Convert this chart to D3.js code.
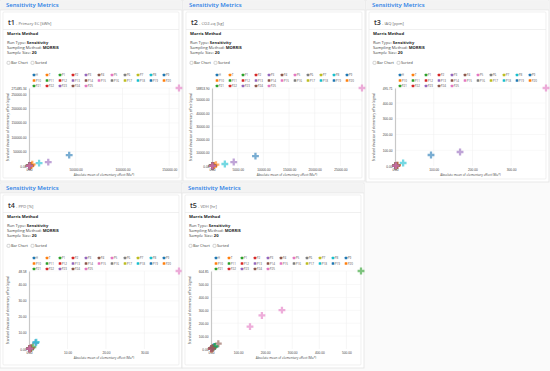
<!DOCTYPE html>
<html>
<head>
<meta charset="utf-8">
<script src="https://cdn.jsdelivr.net/npm/d3@7"></script>
<style>
  html, body { margin: 0; padding: 0; background: #fff; }
  svg { display: block; font-family: "Open Sans", "Noto Sans", sans-serif; }
</style>
</head>
<body>
<svg id="chart" width="550" height="371"></svg>
<script>
// parameters (one point per parameter in each panel)
const params = ['H', 'T', 'P1', 'P2', 'P3', 'P4', 'P5', 'P6', 'P7', 'P8', 'P9',
  'P10', 'P11', 'P12', 'P13', 'P14', 'P15', 'P16', 'P17', 'P18', 'P19', 'P20',
  'P21', 'P22', 'P23', 'P24', 'P25'];

const metricIds = ['t1', 't2', 't3', 't4', 't5'];
const metricNames = ['Primary EC [kWh]', 'CO2-eq [kg]', 'IAQ [ppm]', 'PPD [%]', 'VDH [hr]'];

// mu* (x) and sigma (y)
const muT1 = [43000, 3500, 400, 700, 20600, 900, 1200, 300, 150, 10800, 500, 2500, 200, 350, 450, 1500, 160500, 250, 100, 700, 800, 1800, 300, 200, 150, 1000, 600];
const sigmaT1 = [37800, 6000, 300, 500, 13700, 700, 900, 200, 100, 10000, 400, 2000, 150, 300, 300, 1100, 271485.34, 200, 80, 500, 600, 1400, 200, 150, 100, 800, 400];

const muT2 = [8460, 770, 60, 120, 4230, 150, 200, 50, 30, 2500, 90, 400, 40, 70, 80, 250, 29200, 45, 20, 130, 140, 300, 50, 40, 30, 180, 100];
const sigmaT2 = [7500, 1000, 50, 100, 3000, 120, 160, 40, 20, 1500, 70, 320, 30, 55, 60, 200, 58853.90, 35, 15, 100, 110, 240, 40, 30, 20, 140, 80];

const muT3 = [93, 6, 2, 3, 168, 4, 5, 1.5, 1, 21, 2.5, 5, 1.2, 2, 2.2, 6, 390, 1.4, 0.8, 3, 3.5, 4.5, 1.5, 1.2, 1, 4, 2.5];
const sigmaT3 = [70, 5, 1.5, 2.5, 89, 3, 4, 1.2, 0.8, 19, 2, 4, 1, 1.5, 1.8, 5, 495.71, 1.1, 0.6, 2.5, 3, 3.5, 1.2, 1, 0.8, 3, 2];

const muT4 = [1.7, 0.5, 0.2, 0.3, 0.6, 0.4, 0.5, 0.1, 0.1, 1.9, 0.2, 0.4, 1.0, 0.15, 0.2, 0.5, 39, 0.1, 0.05, 0.3, 0.3, 0.4, 0.2, 0.1, 0.1, 0.3, 0.2];
const sigmaT4 = [3.9, 0.6, 0.2, 0.3, 0.7, 0.4, 0.5, 0.1, 0.1, 4.3, 0.2, 0.4, 1.2, 0.15, 0.2, 0.6, 48.58, 0.1, 0.05, 0.3, 0.3, 0.4, 0.2, 0.1, 0.1, 0.3, 0.2];

const muT5 = [12, 8, 3, 2, 6, 27, 144, 2, 1, 14, 4, 6, 554, 1.5, 3, 10, 188, 1.5, 1, 10, 8, 5, 15, 1, 2, 5, 262];
const sigmaT5 = [18, 12, 4, 2, 8, 41, 173, 3, 1, 20, 5, 8, 604.85, 2, 4, 14, 260, 2, 1, 16, 12, 6, 20, 1, 3, 7, 301];

const colors = d3.scaleOrdinal().domain(params).range(d3.schemeCategory10);
const fmt = d3.format('.2f');

const svg = d3.select('#chart');
svg.append('rect').attr('width', 550).attr('height', 371).attr('fill', '#fafafa');

const cards = [
  { x: 0,   y: 0,   w: 182, h: 181, mu: muT1, sigma: sigmaT1, xCount: 4 },
  { x: 183, y: 0,   w: 182, h: 181, mu: muT2, sigma: sigmaT2, xCount: 6 },
  { x: 366, y: 0,   w: 183, h: 182, mu: muT3, sigma: sigmaT3, xCount: 4 },
  { x: 0,   y: 183, w: 182, h: 185, mu: muT4, sigma: sigmaT4, xCount: 4 },
  { x: 182, y: 183, w: 182, h: 185, mu: muT5, sigma: sigmaT5, xCount: 6 }
];

cards.forEach((c, i) => drawCard(c, metricIds[i], metricNames[i]));

function drawCard(c, id, name) {
  const g = svg.append('g').attr('transform', `translate(${c.x},${c.y})`);

  // card frame + header
  g.append('rect').attr('width', c.w).attr('height', c.h)
    .attr('fill', '#fff').attr('stroke', '#e3e3e3').attr('stroke-width', 0.8);
  g.append('rect').attr('x', 0.5).attr('y', 0.5).attr('width', c.w - 1).attr('height', 9.5)
    .attr('fill', '#f3f3f3');
  g.append('line').attr('x1', 0).attr('x2', c.w).attr('y1', 10).attr('y2', 10)
    .attr('stroke', '#e2e2e2').attr('stroke-width', 0.6);
  g.append('text').attr('x', 6).attr('y', 7.2).attr('font-size', 6)
    .attr('font-weight', 600).attr('fill', '#2a7fe6').text('Sensitivity Metrics');

  // inner panel
  g.append('rect').attr('x', 3).attr('y', 12).attr('width', c.w - 6).attr('height', c.h - 15)
    .attr('fill', '#fff').attr('stroke', '#e6e6e6').attr('stroke-width', 0.6).attr('rx', 1);

  const title = g.append('text').attr('x', 8).attr('y', 25).attr('fill', '#333');
  title.append('tspan').attr('font-size', 7.2).attr('font-weight', 600).text(id);
  title.append('tspan').attr('font-size', 4.1).attr('fill', '#666').text(' - ' + name);
  g.append('line').attr('x1', 3).attr('x2', c.w - 3).attr('y1', 29.5).attr('y2', 29.5)
    .attr('stroke', '#e6e6e6').attr('stroke-width', 0.6);

  g.append('text').attr('x', 7).attr('y', 34.6).attr('font-size', 4.2)
    .attr('font-weight', 700).attr('fill', '#222').text('Morris Method');

  const info = [['Run Type: ', 'Sensitivity'], ['Sampling Method: ', 'MORRIS'], ['Sample Size: ', '20']];
  info.forEach((d, k) => {
    const t = g.append('text').attr('x', 7).attr('y', 44 + k * 5.2).attr('font-size', 4.1).attr('fill', '#444');
    t.append('tspan').text(d[0]);
    t.append('tspan').attr('font-weight', 700).attr('fill', '#222').text(d[1]);
  });

  // checkboxes
  [['Bar Chart', 7], ['Sorted', 31]].forEach(([lbl, x0]) => {
    g.append('rect').attr('x', x0).attr('y', 61.3).attr('width', 3).attr('height', 3).attr('rx', 0.8)
      .attr('fill', '#fff').attr('stroke', '#888').attr('stroke-width', 0.35);
    g.append('text').attr('x', x0 + 4).attr('y', 64.2).attr('font-size', 3.8).attr('fill', '#444').text(lbl);
  });

  // legend
  const leg = g.selectAll('g.leg').data(params).join('g').attr('class', 'leg')
    .attr('transform', (d, k) => `translate(${34 + (k % 11) * 13},${75 + Math.floor(k / 11) * 5.5})`);
  leg.append('rect').attr('x', -1.3).attr('y', -1.3).attr('width', 2.6).attr('height', 2.6).attr('rx', 0.5)
    .attr('fill', d => colors(d));
  leg.append('text').attr('x', 1.8).attr('y', 1.1).attr('font-size', 3).attr('fill', '#555').text(d => d);

  // plot
  const left = 29, right = c.w - 3, top = 88, bottom = 166;
  const maxX = d3.max(c.mu), maxY = d3.max(c.sigma);
  const x = d3.scaleLinear().domain([0, maxX]).range([left, right]);
  const y = d3.scaleLinear().domain([0, maxY]).range([bottom, top]);

  const xt = x.ticks(c.xCount);
  const yt = y.ticks(6).filter(v => y(v) - y(maxY) > 3).concat([maxY]);

  g.append('g').selectAll('line').data(xt.filter(v => v > 0)).join('line')
    .attr('x1', d => x(d)).attr('x2', d => x(d)).attr('y1', top).attr('y2', bottom)
    .attr('stroke', '#ececec').attr('stroke-width', 0.5);
  g.append('g').selectAll('line').data(yt.filter(v => v > 0)).join('line')
    .attr('x1', left).attr('x2', right).attr('y1', d => y(d)).attr('y2', d => y(d))
    .attr('stroke', '#f1f1f1').attr('stroke-width', 0.5);

  const yAxis = g.append('g').attr('transform', `translate(${left},0)`)
    .call(d3.axisLeft(y).tickValues(yt).tickFormat(fmt).tickSize(0).tickPadding(2.5));
  yAxis.select('.domain').attr('stroke', '#c8c8c8').attr('stroke-width', 1.2);
  yAxis.selectAll('text').attr('font-size', 3.2).attr('fill', '#444').attr('font-family', 'inherit');

  const xAxis = g.append('g').attr('transform', `translate(0,${bottom})`)
    .call(d3.axisBottom(x).tickValues(xt).tickFormat(fmt).tickSize(0).tickPadding(2.5));
  xAxis.select('.domain').remove();
  xAxis.selectAll('text').attr('font-size', 3.2).attr('fill', '#444').attr('font-family', 'inherit');

  g.append('text').attr('x', (left + right) / 2).attr('y', bottom + 10).attr('text-anchor', 'middle')
    .attr('font-size', 3.1).attr('fill', '#444').text('Absolute mean of elementary effect (Mu*)');
  g.append('text').attr('transform', `translate(9,${(top + bottom) / 2}) rotate(-90)`)
    .attr('text-anchor', 'middle').attr('font-size', 3.1).attr('fill', '#444')
    .text('Standard deviation of elementary effect (sigma)');

  // points
  g.append('g').selectAll('path').data(params).join('path')
    .attr('transform', (d, k) => `translate(${x(c.mu[k])},${y(c.sigma[k])})`)
    .attr('d', d3.symbol(d3.symbolCross, 26))
    .attr('fill', d => colors(d)).attr('fill-opacity', 0.6);
}
</script>
</body>
</html>
